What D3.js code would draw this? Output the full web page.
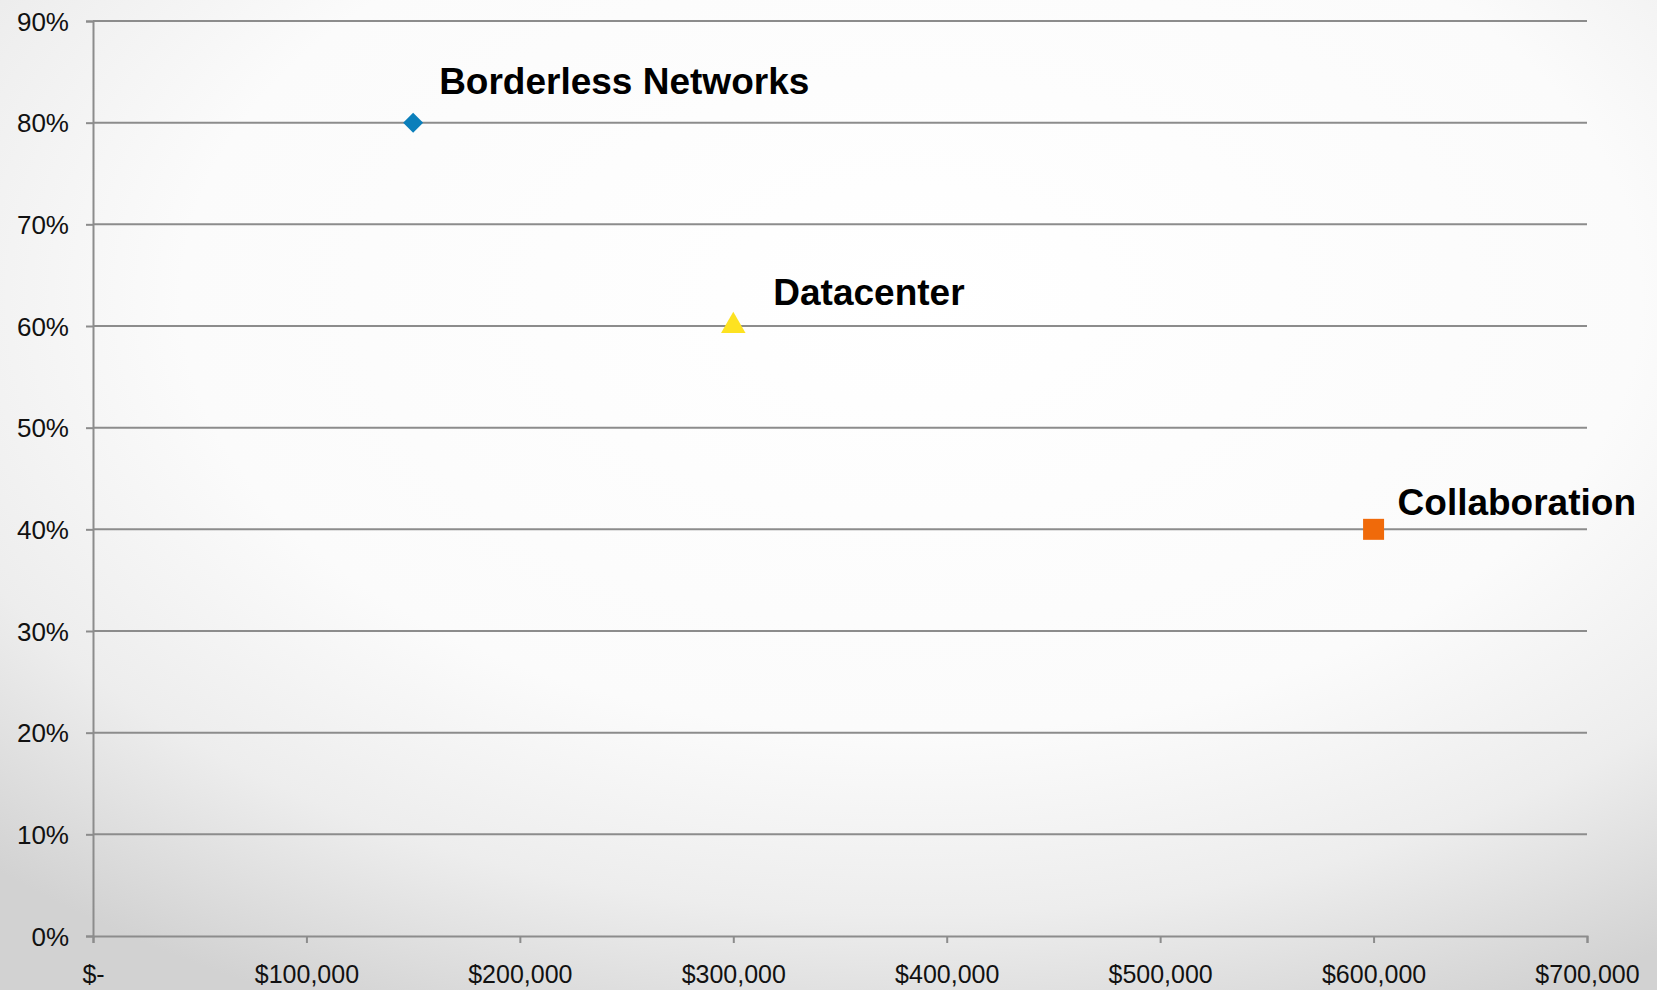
<!DOCTYPE html>
<html>
<head>
<meta charset="utf-8">
<script src="https://cdn.jsdelivr.net/npm/d3@7"></script>
<style>
    body { margin: 0; padding: 0; overflow: hidden; }
    #chart { width: 1657px; height: 990px; }
    text { font-family: "Liberation Sans", Arial, sans-serif; }
</style>
</head>
<body>
<div id="chart"></div>
<script>
// data
let names = ["Borderless Networks", "Datacenter", "Collaboration"];
let revenue = [150000, 300000, 600000];
let share = [0.80, 0.60, 0.40];
let markers = ["diamond", "triangle", "square"];
let colors = ["#0b7fbb", "#fde221", "#f06a0a"];
let labelOffsets = [[26, -29], [40, -21], [24, -14]];

let xTicks = [0, 100000, 200000, 300000, 400000, 500000, 600000, 700000];
let yTicks = [0, 0.1, 0.2, 0.3, 0.4, 0.5, 0.6, 0.7, 0.8, 0.9];

let points = names.map((n, i) => ({name: n, x: revenue[i], y: share[i], marker: markers[i], color: colors[i], off: labelOffsets[i]}));

let margin = {top: 21, right: 70, bottom: 54, left: 93};
let W = 1657, H = 990;
let width = W - margin.left - margin.right,
    height = H - margin.top - margin.bottom;

let svg = d3.select("#chart").append("svg")
    .attr("width", W)
    .attr("height", H);

// background gradient (white centre, grey towards the lower corners)
let defs = svg.append("defs");
let grad = defs.append("radialGradient")
    .attr("id", "bg")
    .attr("cx", "55%").attr("cy", "30%")
    .attr("r", "80%");
grad.append("stop").attr("offset", "0%").attr("stop-color", "#ffffff");
grad.append("stop").attr("offset", "55%").attr("stop-color", "#fbfbfb");
grad.append("stop").attr("offset", "78%").attr("stop-color", "#ededed");
grad.append("stop").attr("offset", "100%").attr("stop-color", "#d2d2d2");

svg.append("rect")
    .attr("width", W).attr("height", H)
    .attr("fill", "url(#bg)");

let g = svg.append("g")
    .attr("transform", "translate(" + margin.left + "," + margin.top + ")");

let x = d3.scaleLinear().domain([0, 700000]).range([0, width]);
let y = d3.scaleLinear().domain([0, 0.9]).range([height, 0]);

// gridlines
g.selectAll(".grid")
    .data(yTicks.filter(d => d > 0))
    .enter().append("line")
    .attr("class", "grid")
    .attr("x1", 0).attr("x2", width)
    .attr("y1", d => y(d)).attr("y2", d => y(d))
    .attr("stroke", "#8c8c8c")
    .attr("stroke-width", 2);

let fmtX = d => d === 0 ? "$-" : "$" + d3.format(",")(d);

let xAxis = g.append("g")
    .attr("transform", "translate(0," + height + ")")
    .call(d3.axisBottom(x).tickValues(xTicks).tickFormat(fmtX).tickSizeOuter(0).tickSize(7).tickPadding(22));

let yAxis = g.append("g")
    .call(d3.axisLeft(y).tickValues(yTicks).tickFormat(d3.format(".0%")).tickSizeOuter(0).tickSize(7).tickPadding(17));

[xAxis, yAxis].forEach(a => {
    a.select(".domain").attr("stroke", "#8c8c8c").attr("stroke-width", 2);
    a.selectAll(".tick line").attr("stroke", "#8c8c8c").attr("stroke-width", 2);
    a.selectAll(".tick text")
        .attr("fill", "#111")
        .attr("font-size", "25px")
        .attr("font-family", "'Liberation Sans', Arial, sans-serif");
});
yAxis.selectAll(".tick text").attr("dy", "0.35em").attr("font-size", "26px");

// markers
let symbolType = {diamond: d3.symbolSquare, triangle: d3.symbolTriangle, square: d3.symbolSquare};
let symbolSize = {diamond: 200, triangle: 260, square: 441};

g.selectAll(".pt")
    .data(points)
    .enter().append("path")
    .attr("class", "pt")
    .attr("transform", d => "translate(" + x(d.x) + "," + y(d.y) + ")" + (d.marker === "diamond" ? " rotate(45)" : ""))
    .attr("d", d => d3.symbol().type(symbolType[d.marker]).size(symbolSize[d.marker])())
    .attr("fill", d => d.color);

// labels
g.selectAll(".pt-label")
    .data(points)
    .enter().append("text")
    .attr("class", "pt-label")
    .attr("x", d => x(d.x) + d.off[0])
    .attr("y", d => y(d.y) + d.off[1])
    .attr("font-size", "37px")
    .attr("font-weight", "bold")
    .attr("fill", "#000")
    .text(d => d.name);
</script>
</body>
</html>
